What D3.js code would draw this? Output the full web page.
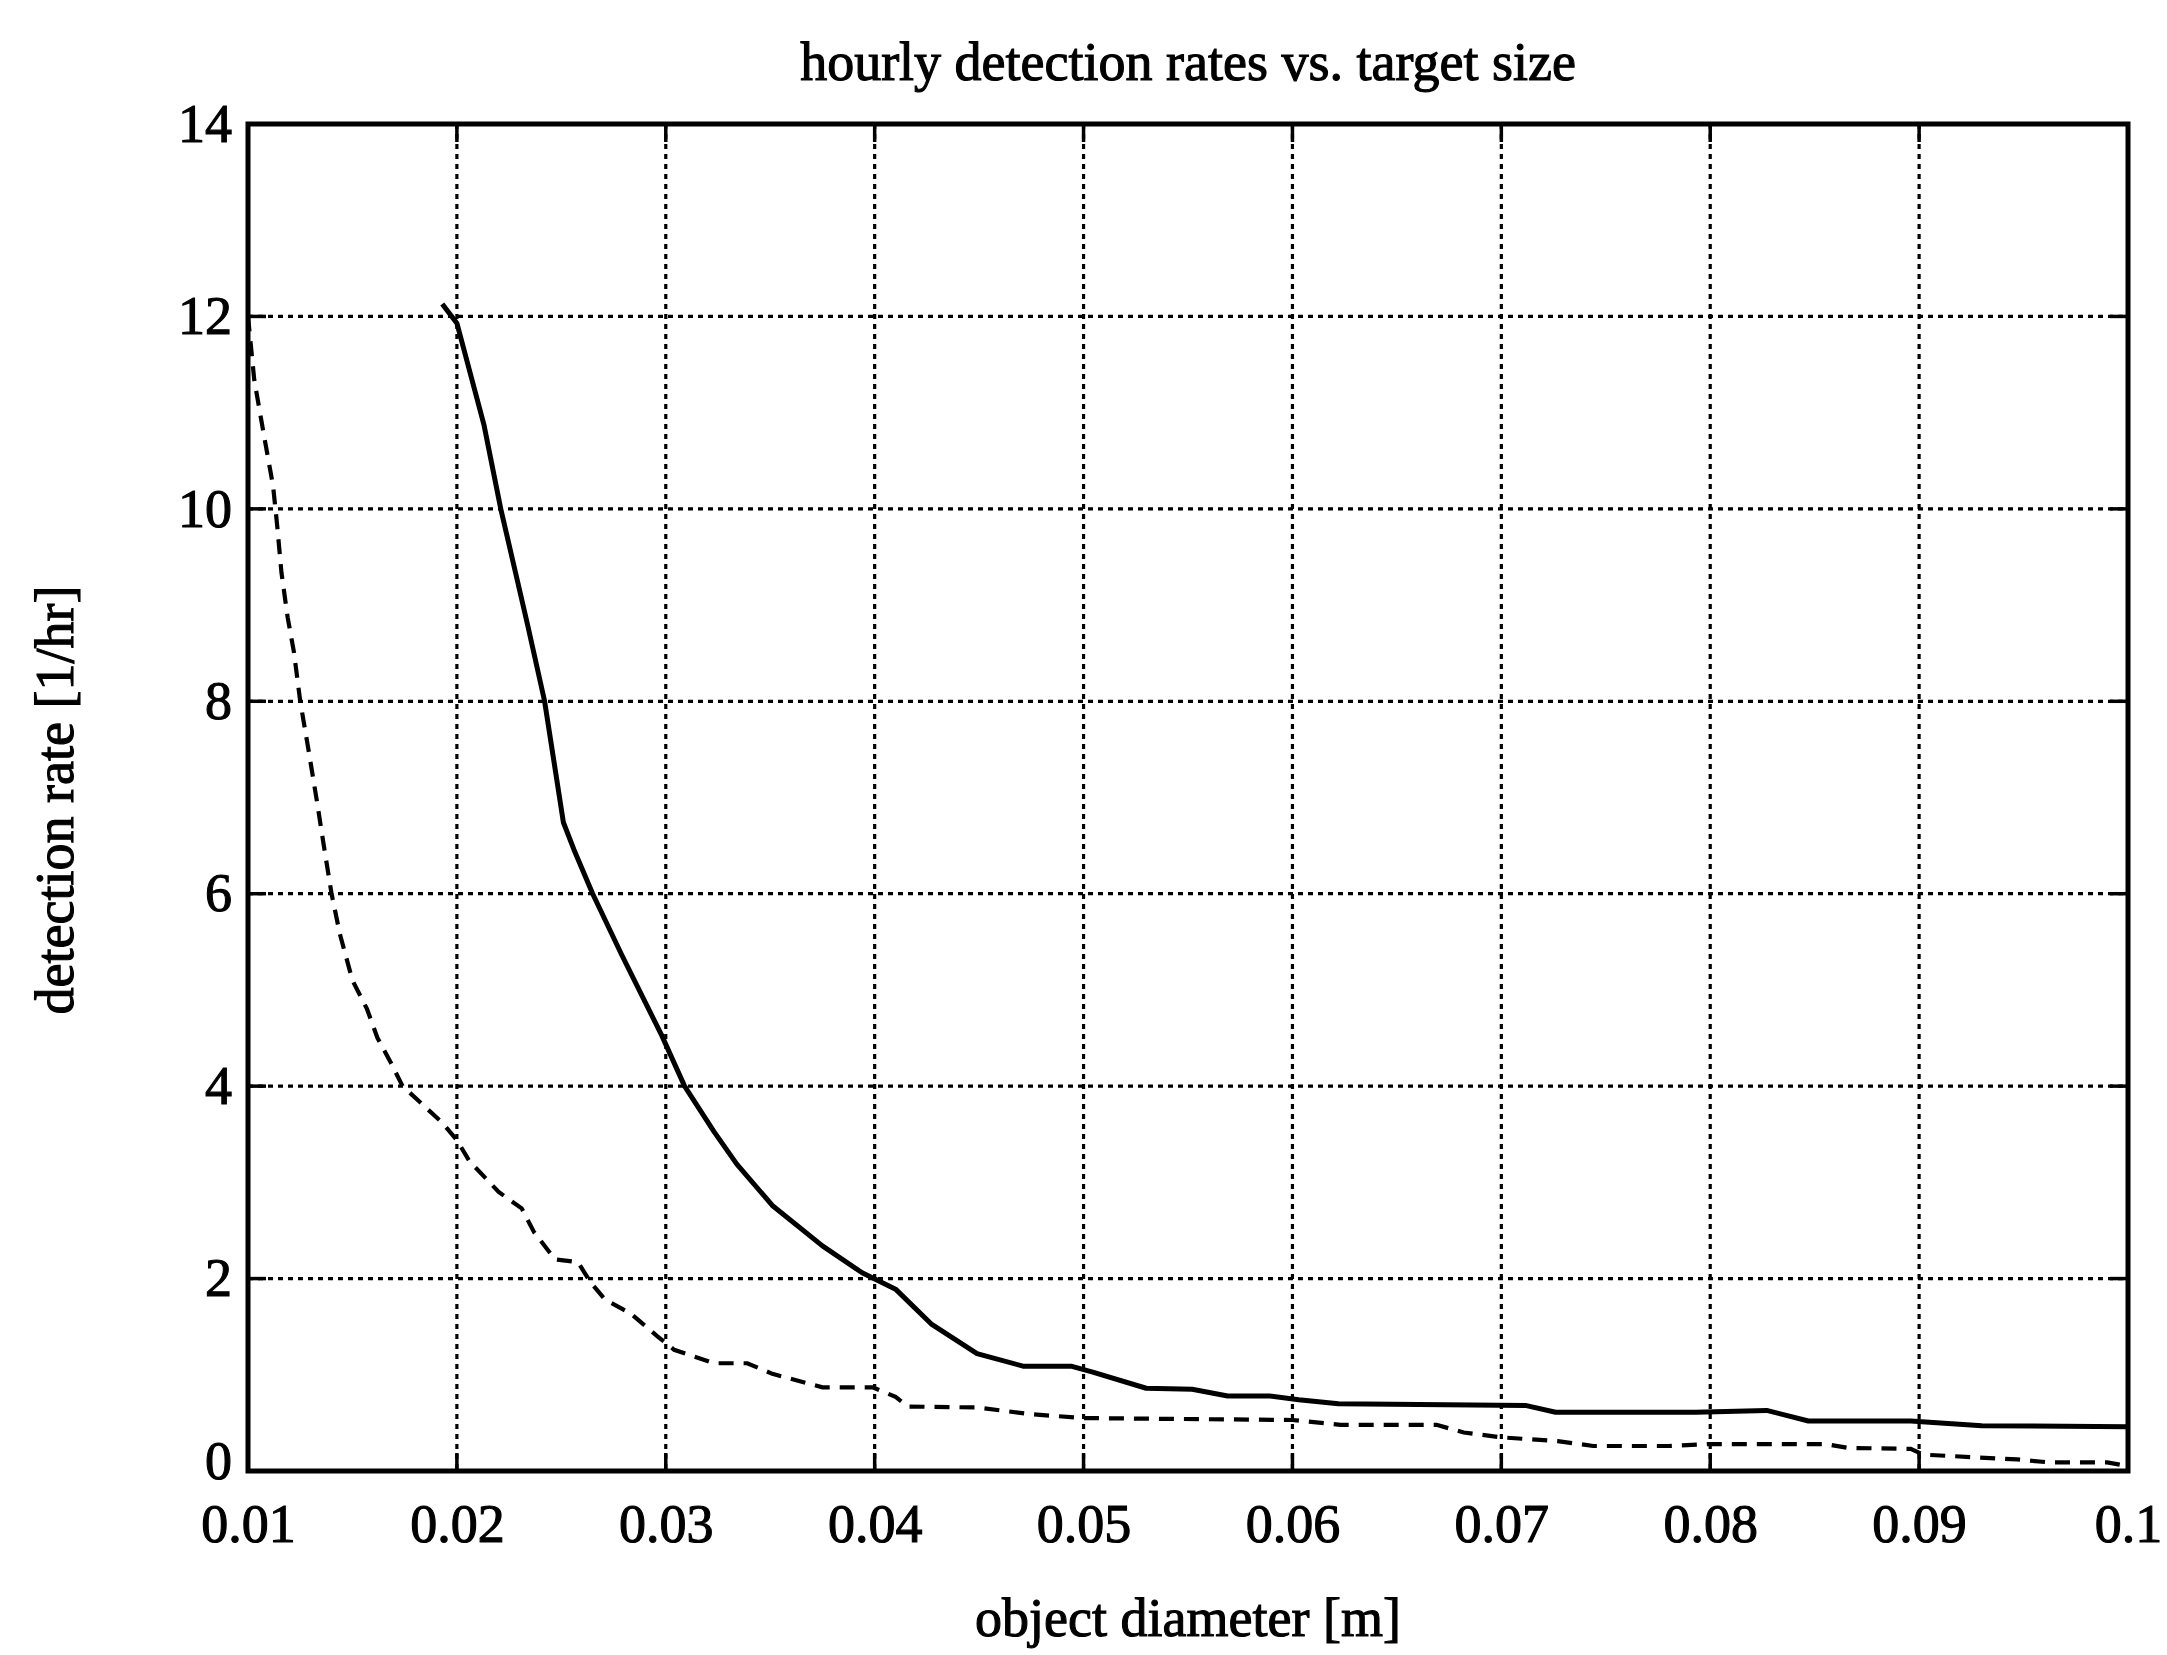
<!DOCTYPE html>
<html><head><meta charset="utf-8">
<script src="https://cdn.jsdelivr.net/npm/d3@7"></script>
<style>
body{margin:0;background:#fff;}
text{font-family:"Liberation Serif","Times New Roman",serif;fill:#000;stroke:#000;stroke-width:1.1px;}
</style>
</head><body>
<svg id="c" width="2167" height="1655"></svg>
<script>
const chartTitle = "hourly detection rates vs. target size";
const xLabel = "object diameter [m]";
const yLabel = "detection rate [1/hr]";
const xTicks = [0.01,0.02,0.03,0.04,0.05,0.06,0.07,0.08,0.09,0.1];
const xTickLabels = ["0.01","0.02","0.03","0.04","0.05","0.06","0.07","0.08","0.09","0.1"];
const yTicks = [0,2,4,6,8,10,12,14];
const yTickLabels = ["0","2","4","6","8","10","12","14"];

// solid curve
const solidX = [0.0193,0.0200,0.0213,0.0221,0.0229,0.0234,0.0242,0.0251,0.0256,0.0265,0.0279,0.0298,0.0309,0.0323,0.0334,0.0351,0.0375,0.0394,0.0410,0.0427,0.0449,0.0471,0.0494,0.0504,0.0530,0.0552,0.0569,0.0589,0.0603,0.0622,0.0712,0.0726,0.0793,0.0827,0.0847,0.0896,0.0930,0.1000];
const solidY = [12.13,11.93,10.87,10.0,9.25,8.78,8.0,6.74,6.46,6.0,5.36,4.53,4.0,3.53,3.19,2.76,2.34,2.06,1.89,1.53,1.22,1.09,1.09,1.03,0.86,0.85,0.78,0.78,0.74,0.70,0.68,0.61,0.61,0.63,0.52,0.52,0.47,0.46];

// dashed curve
const dashedX = [0.0100,0.0103,0.0108,0.0112,0.0114,0.0116,0.0119,0.0122,0.0125,0.0129,0.0133,0.0136,0.0140,0.0144,0.0150,0.0157,0.0162,0.0168,0.0174,0.0184,0.0193,0.0200,0.0206,0.0220,0.0231,0.0237,0.0247,0.0258,0.0264,0.0271,0.0283,0.0296,0.0304,0.0323,0.0339,0.0351,0.0375,0.0399,0.0410,0.0416,0.0449,0.0475,0.0500,0.0600,0.0623,0.0669,0.0682,0.0700,0.0727,0.0744,0.0780,0.0800,0.0855,0.0866,0.0896,0.0902,0.0947,0.0962,0.0990,0.1000];
const dashedY = [12.0,11.34,10.72,10.24,9.82,9.34,8.87,8.51,8.0,7.49,6.96,6.54,6.0,5.58,5.10,4.80,4.50,4.26,4.0,3.80,3.62,3.44,3.22,2.90,2.73,2.48,2.20,2.17,1.96,1.78,1.64,1.40,1.26,1.12,1.12,1.01,0.87,0.87,0.77,0.67,0.66,0.59,0.55,0.53,0.48,0.48,0.40,0.35,0.31,0.26,0.26,0.28,0.28,0.24,0.23,0.17,0.12,0.09,0.09,0.05];

const L = 248, R = 2128, T = 124, B = 1471;
const svg = d3.select("#c");
const x = d3.scaleLinear().domain([0.01, 0.1]).range([L, R]);
const y = d3.scaleLinear().domain([0, 14]).range([B, T]);

// grid
const grid = svg.append("g");
grid.selectAll(".gx").data(xTicks.slice(1, -1)).enter().append("line")
  .attr("x1", d => x(d)).attr("x2", d => x(d)).attr("y1", T).attr("y2", B)
  .attr("stroke", "#000").attr("stroke-width", 3.2).attr("stroke-dasharray", "5,5");
grid.selectAll(".gy").data(yTicks.slice(1, -1)).enter().append("line")
  .attr("y1", d => y(d)).attr("y2", d => y(d)).attr("x1", L).attr("x2", R)
  .attr("stroke", "#000").attr("stroke-width", 3.2).attr("stroke-dasharray", "5,5");

// inner ticks
const tk = 18;
const ticksG = svg.append("g").attr("stroke", "#000").attr("stroke-width", 3.5);
xTicks.forEach(v => {
  ticksG.append("line").attr("x1", x(v)).attr("x2", x(v)).attr("y1", B).attr("y2", B - tk);
  ticksG.append("line").attr("x1", x(v)).attr("x2", x(v)).attr("y1", T).attr("y2", T + tk);
});
yTicks.forEach(v => {
  ticksG.append("line").attr("y1", y(v)).attr("y2", y(v)).attr("x1", L).attr("x2", L + tk);
  ticksG.append("line").attr("y1", y(v)).attr("y2", y(v)).attr("x1", R).attr("x2", R - tk);
});

// curves
const line = d3.line().x(d => x(d[0])).y(d => y(d[1]));
svg.append("path").datum(solidX.map((v, i) => [v, solidY[i]]))
  .attr("d", line).attr("fill", "none").attr("stroke", "#000").attr("stroke-width", 5)
  .attr("stroke-linejoin", "round");
svg.append("path").datum(dashedX.map((v, i) => [v, dashedY[i]]))
  .attr("d", line).attr("fill", "none").attr("stroke", "#000").attr("stroke-width", 4.2)
  .attr("stroke-dasharray", "15,10");

// frame
svg.append("rect").attr("x", L).attr("y", T).attr("width", R - L).attr("height", B - T)
  .attr("fill", "none").attr("stroke", "#000").attr("stroke-width", 5);

// tick labels via d3 axes
const xAxis = d3.axisBottom(x).tickValues(xTicks).tickFormat((d, i) => xTickLabels[i]).tickSize(0).tickPadding(33);
const gx = svg.append("g").attr("transform", `translate(0,${B})`).call(xAxis);
gx.select(".domain").remove();
gx.selectAll("text").attr("font-size", 54).style("font-family", '"Liberation Serif", serif');

const yAxis = d3.axisLeft(y).tickValues(yTicks).tickFormat((d, i) => yTickLabels[i]).tickSize(0).tickPadding(16);
const gy = svg.append("g").attr("transform", `translate(${L},0)`).call(yAxis);
gy.select(".domain").remove();
gy.selectAll("text").attr("font-size", 54).style("font-family", '"Liberation Serif", serif')
  .attr("dy", d => d === 0 ? "0.14em" : "0.32em");

// title & axis titles
svg.append("text").attr("x", (L + R) / 2).attr("y", 80).attr("text-anchor", "middle")
  .attr("font-size", 54).text(chartTitle);
svg.append("text").attr("x", (L + R) / 2).attr("y", 1636).attr("text-anchor", "middle")
  .attr("font-size", 54).text(xLabel);
svg.append("text").attr("transform", "translate(73,800) rotate(-90)").attr("text-anchor", "middle")
  .attr("font-size", 54).text(yLabel);
</script>
</body></html>
